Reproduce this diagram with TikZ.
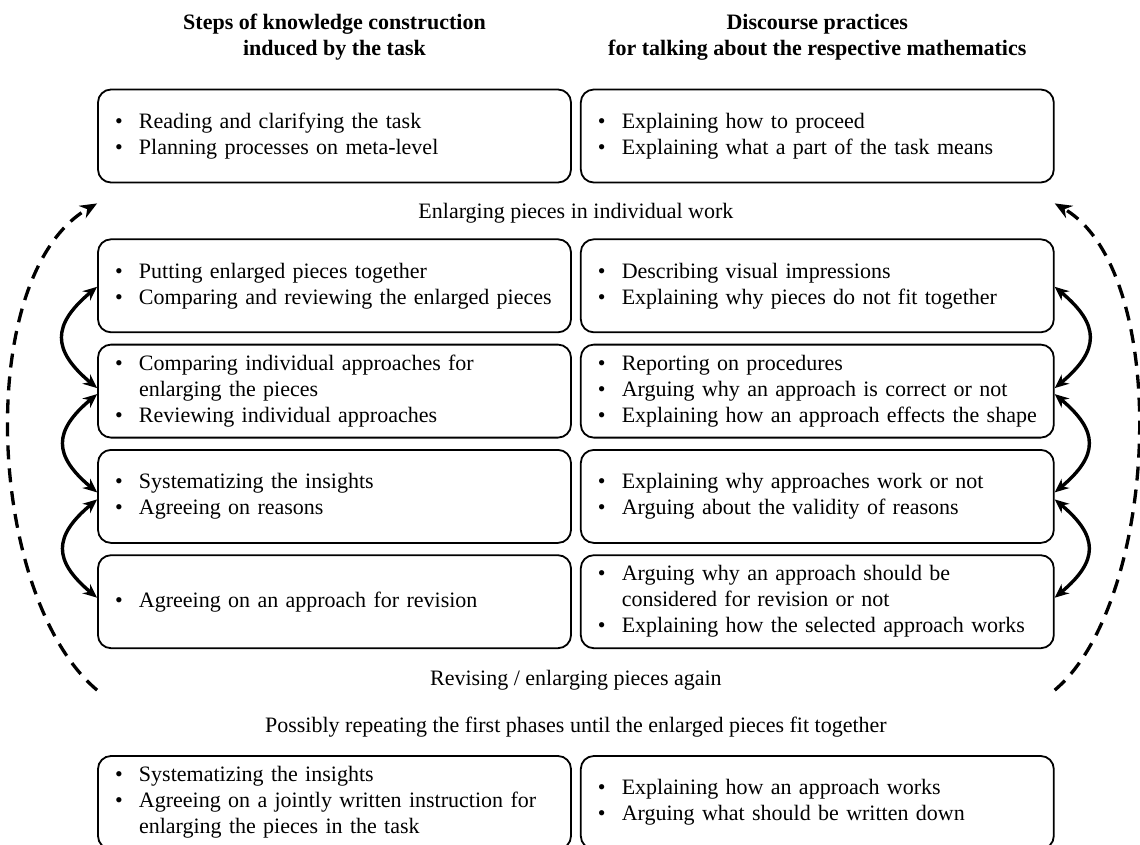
\documentclass[tikz,border=0pt]{standalone}
\usepackage{fontspec}
\setmainfont{Liberation Serif}
\usetikzlibrary{arrows.meta,positioning,calc}

\newcommand{\bul}{\makebox[24pt][l]{\textbullet}}
\newcommand{\ind}{\hspace*{24pt}}

\begin{document}
\begin{tikzpicture}[
    x=1pt, y=1pt,
    node distance=10.5pt,
    box/.style={rectangle, draw, line width=1.8pt, rounded corners=13pt,
                text width=439pt, inner xsep=17pt, inner ysep=3pt,
                minimum height=93pt, align=left, font=\fontsize{22}{26}\selectfont},
    head/.style={align=center, font=\fontsize{22}{26}\selectfont\bfseries},
    lab/.style={font=\fontsize{22}{26}\selectfont},
    backforth/.style={{Stealth[length=14pt,width=12pt]}-{Stealth[length=14pt,width=12pt]},
                      line width=3.4pt},
    again/.style={-{Stealth[length=17pt,width=14pt]}, line width=3.3pt,
                  dash pattern=on 14pt off 9pt},
  ]
    \useasboundingbox (0,0) rectangle (1140,-844);
    \clip (0,0) rectangle (1140,-844);

    \node[box] (l1) at (334.5,-136) {\bul Reading and clarifying the task\\
      \bul Planning processes on meta-level};
    \node[box, right=8pt of l1] (r1) {\bul Explaining how to proceed\\
      \bul Explaining what a part of the task means};

    \node[box, below=55pt of l1] (l2) {\bul Putting enlarged pieces together\\
      \bul Comparing and reviewing the enlarged pieces};
    \node[box, right=8pt of l2] (r2) {\bul Describing visual impressions\\
      \bul Explaining why pieces do not fit together};

    \node[box, below=of l2] (l3) {\bul Comparing individual approaches for\\
      \ind enlarging the pieces\\
      \bul Reviewing individual approaches};
    \node[box, right=8pt of l3] (r3) {\bul Reporting on procedures\\
      \bul Arguing why an approach is correct or not\\
      \bul Explaining how an approach effects the shape};

    \node[box, below=of l3] (l4) {\bul Systematizing the insights\\
      \bul Agreeing on reasons};
    \node[box, right=8pt of l4] (r4) {\bul Explaining why approaches work or not\\
      \bul Arguing about the validity of reasons};

    \node[box, below=of l4] (l5) {\bul Agreeing on an approach for revision};
    \node[box, right=8pt of l5] (r5) {\bul Arguing why an approach should be\\
      \ind considered for revision or not\\
      \bul Explaining how the selected approach works};

    \node[box, below=106pt of l5] (l6) {\bul Systematizing the insights\\
      \bul Agreeing on a jointly written instruction for\\
      \ind enlarging the pieces in the task};
    \node[box, right=8pt of l6] (r6) {\bul Explaining how an approach works\\
      \bul Arguing what should be written down};

    \node[head] (hsteps) at ([yshift=99pt]l1.center) {Steps of knowledge construction\\induced by the task};
    \node[head] (hdisc) at ([yshift=99pt]r1.center) {Discourse practices\\for talking about the respective mathematics};

    \node[lab] (enlarge) at ($(l1.south east)!.5!(r2.north west)+(0,-2)$) {Enlarging pieces in individual work};
    \node[lab] (revise) at ($(l5.south east)!.5!(r5.south west)+(0,-31)$) {Revising / enlarging pieces again};
    \node[lab] (repeat) at ([yshift=-47pt]revise.center) {Possibly repeating the first phases until the enlarged pieces fit together};

    \draw[backforth] ([yshift=-1pt]l2.west) to[out=220, in=140, looseness=1.5] ([yshift=3pt]l3.west);
    \draw[backforth] ([yshift=-3pt]l3.west) to[out=220, in=140, looseness=1.5] ([yshift=4pt]l4.west);
    \draw[backforth] ([yshift=-3pt]l4.west) to[out=220, in=140, looseness=1.5] ([yshift=4pt]l5.west);
    \draw[backforth] ([yshift=-1pt]r2.east) to[out=-40, in=40, looseness=1.5] ([yshift=3pt]r3.east);
    \draw[backforth] ([yshift=-3pt]r3.east) to[out=-40, in=40, looseness=1.5] ([yshift=4pt]r4.east);
    \draw[backforth] ([yshift=-3pt]r4.east) to[out=-40, in=40, looseness=1.5] ([yshift=4pt]r5.east);

    \coordinate (lbot) at ([yshift=-41pt]l5.south west);
    \coordinate (ltop) at ([yshift=35pt]l2.north west);
    \coordinate (rbot) at ([yshift=-41pt]r5.south east);
    \coordinate (rtop) at ([yshift=35pt]r2.north east);
    \draw[again] (lbot) to[out=140, in=210, looseness=0.76] (ltop);
    \draw[again] (rbot) to[out=40, in=-30, looseness=0.72] (rtop);
  \end{tikzpicture}
\end{document}
